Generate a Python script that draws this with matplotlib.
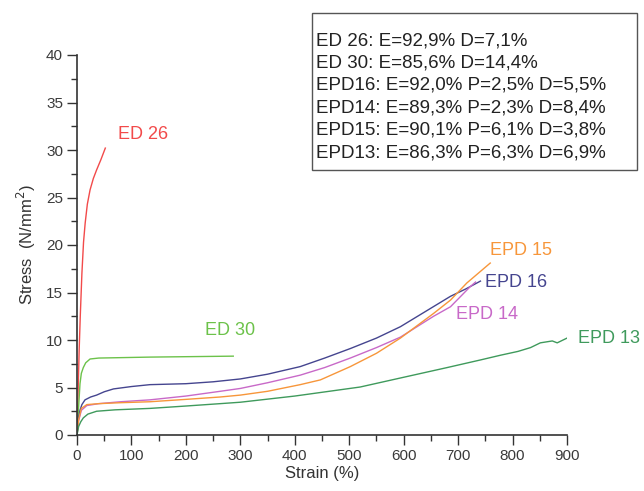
import matplotlib
matplotlib.use("Agg")
import matplotlib.pyplot as plt
from matplotlib.patches import Rectangle
from matplotlib.ticker import MultipleLocator

plt.rcParams['font.family'] = ['Liberation Sans', 'DejaVu Sans']

# Strain (%) / stress (N/mm2)
ed26_x = [0, 2, 4, 6, 9, 12, 15, 19, 24, 30, 36, 44, 52]
ed26_y = [0, 4.5, 9, 12.5, 17, 20.3, 22.3, 24.3, 25.8, 27.0, 27.9, 29.0, 30.2]

ed30_x = [0, 3, 5.5, 8, 11.6, 16, 24, 40, 134, 287]
ed30_y = [0, 3.0, 5.4, 6.5, 7.1, 7.6, 8.0, 8.1, 8.2, 8.3]

epd16_x = [0, 2, 5.5, 9, 14.7, 25, 36, 50, 67, 100, 134, 200, 250, 300, 350,
           410, 455, 502, 550, 594, 640, 686, 715, 741]
epd16_y = [0, 1.5, 2.6, 3.2, 3.7, 4.0, 4.2, 4.55, 4.85, 5.1, 5.3, 5.4, 5.6, 5.9, 6.4,
           7.2, 8.1, 9.1, 10.2, 11.4, 13.0, 14.6, 15.4, 16.2]

epd14_x = [0, 3, 8, 18, 40, 80, 134, 200, 263, 300, 350, 410, 455, 502, 550, 594,
           655, 686, 722, 732]
epd14_y = [0, 1.5, 2.6, 3.1, 3.3, 3.5, 3.7, 4.1, 4.6, 4.9, 5.5, 6.3, 7.1, 8.1, 9.2, 10.3,
           12.5, 13.5, 15.6, 16.1]

epd15_x = [0, 3, 8, 18, 40, 80, 134, 200, 263, 300, 350, 410, 447, 502, 550, 594,
           655, 686, 716, 759]
epd15_y = [0, 1.6, 2.8, 3.2, 3.3, 3.4, 3.5, 3.75, 4.0, 4.2, 4.6, 5.3, 5.8, 7.2, 8.6, 10.2,
           12.8, 14.2, 16.0, 18.1]

epd13_x = [0, 3, 7, 11.6, 20, 36, 70, 134, 200, 263, 300, 400, 520, 594, 680,
           741, 778, 810, 833, 851, 873, 882, 900]
epd13_y = [0, 0.9, 1.4, 1.8, 2.2, 2.5, 2.65, 2.8, 3.05, 3.3, 3.45, 4.1, 5.05, 6.0, 7.1,
           7.9, 8.4, 8.8, 9.2, 9.7, 9.9, 9.7, 10.2]

legend_lines = [
    "ED 26: E=92,9% D=7,1%",
    "ED 30: E=85,6% D=14,4%",
    "EPD16: E=92,0% P=2,5% D=5,5%",
    "EPD14: E=89,3% P=2,3% D=8,4%",
    "EPD15: E=90,1% P=6,1% D=3,8%",
    "EPD13: E=86,3% P=6,3% D=6,9%",
]

series = [
    (ed26_x, ed26_y, "#f24a4a", "ED 26", (75, 31.6)),
    (ed30_x, ed30_y, "#6cc24a", "ED 30", (235, 11.0)),
    (epd16_x, epd16_y, "#45458f", "EPD 16", (750, 16.1)),
    (epd14_x, epd14_y, "#c869c8", "EPD 14", (697, 12.7)),
    (epd15_x, epd15_y, "#f7963a", "EPD 15", (758, 19.4)),
    (epd13_x, epd13_y, "#3f9a5c", "EPD 13", (921, 10.2)),
]

W, H = 644, 491
fig = plt.figure(figsize=(W / 100, H / 100), dpi=100)
ax = fig.add_axes([77 / W, 56 / H, 490 / W, 380 / H])

for xs, ys, col, name, pos in series:
    ax.plot(xs, ys, color=col, lw=1.0)
    ax.text(pos[0], pos[1], name, color=col, fontsize=13,
            va='center', ha='left', clip_on=False)

ax.set_xlim(0, 900)
ax.set_ylim(0, 40)
ax.xaxis.set_major_locator(MultipleLocator(100))
ax.xaxis.set_minor_locator(MultipleLocator(50))
ax.yaxis.set_major_locator(MultipleLocator(5))
ax.yaxis.set_minor_locator(MultipleLocator(2.5))

for s in ['top', 'right']:
    ax.spines[s].set_visible(False)
for s in ['left', 'bottom']:
    ax.spines[s].set_color('#333333')
    ax.spines[s].set_linewidth(1.2)
ax.tick_params(which='major', direction='out', length=7, width=1, colors='#333333',
               labelsize=11, labelcolor='#3a3a3a', pad=3)
ax.tick_params(which='minor', direction='out', length=4, width=1, colors='#333333')

ax.set_xlabel("Strain (%)", fontsize=12, color='#333333', labelpad=2)
ax.set_ylabel("Stress  (N/mm$^2$)", fontsize=12, color='#333333', labelpad=6)

# composition box, top right
fig.add_artist(Rectangle((312 / W, 1 - 170 / H), 325 / W, 157 / H,
                         transform=fig.transFigure, fc='white', ec='#555555', lw=1))
for i, line in enumerate(legend_lines):
    fig.text(316 / W, 1 - (45 + 22.4 * i) / H, line, fontsize=13.5, color='#222222',
             va='baseline', ha='left')

fig.savefig("out.png", dpi=100)
